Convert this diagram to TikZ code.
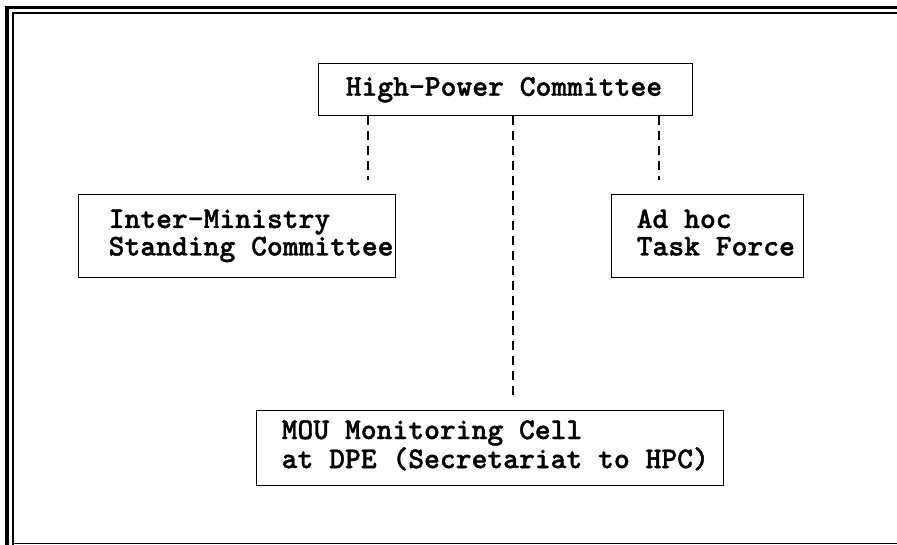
\documentclass[tikz,border=0pt]{standalone}
\usepackage{fontspec}
\newfontfamily\courfont[FakeBold=1.2]{lmmonolt10-bold.otf}
\begin{document}
\begin{tikzpicture}[x=0.75pt,y=-0.75pt,
  box/.style={draw, line width=1.1pt, inner sep=0pt, anchor=north west,
    font=\courfont\fontsize{22.6}{20.6}\selectfont},
  link/.style={line width=1.1pt, dash pattern=on 6.75pt off 4.5pt},
  frameline/.style={line width=#1}]
\useasboundingbox (0,0) rectangle (897,545);
% frame
\draw[frameline=2.4pt] (7,545) -- (7,7.5) -- (897,7.5);
\draw[frameline=1.1pt] (13,545) -- (13,13) -- (897,13);
\draw[frameline=0.9pt] (13,543.5) -- (897,543.5);
% boxes
\node[box, minimum width=280.5pt, minimum height=39pt] (hpc) at (318,63)
  {\makebox[280.5pt][l]{\hspace*{20.25pt}High-Power Committee}};
\node[box, minimum width=237.75pt, minimum height=62.25pt] (imsc) at (78,194)
  {\makebox[237.75pt][l]{\hspace*{22.5pt}\begin{tabular}{@{}l@{}}Inter-Ministry\\Standing Committee\end{tabular}}};
\node[box, minimum width=144pt, minimum height=62.25pt] (task) at (611,194)
  {\makebox[144pt][l]{\hspace*{18.75pt}\begin{tabular}{@{}l@{}}Ad hoc\\Task Force\end{tabular}}};
\node[box, minimum width=350.25pt, minimum height=56pt] (mou) at (256,410)
  {\makebox[350.25pt][l]{\hspace*{18.75pt}\raisebox{-3.5pt}{\begin{tabular}{@{}l@{}}MOU Monitoring Cell\\at DPE (Secretariat to HPC)\end{tabular}}}};
% connector ends
\coordinate (e1) at (368,180);
\coordinate (e2) at (513,395);
\coordinate (e3) at (659,180);
\draw[link] (hpc.south -| e1) -- (e1);
\draw[link] (hpc.south -| e2) -- (e2);
\draw[link] (hpc.south -| e3) -- (e3);
\end{tikzpicture}
\end{document}
